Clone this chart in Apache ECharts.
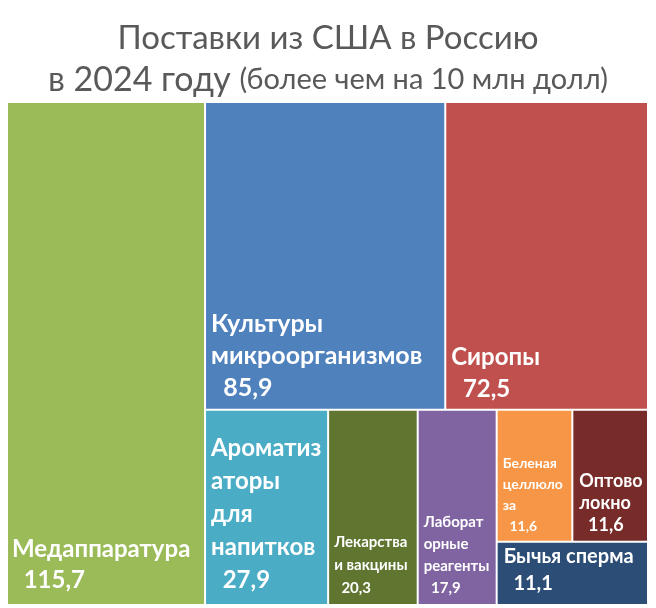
<!DOCTYPE html>
<html>
<head>
<meta charset="utf-8">
<script src="https://cdn.jsdelivr.net/npm/echarts@6/dist/echarts.min.js"></script>
<style>
  html, body { margin: 0; padding: 0; background: #fff; }
  #main { width: 656px; height: 608px; }
</style>
</head>
<body>
<div id="main"></div>
<script>
// категории (с переносами, как на подписях) и значения, млн долл
var names = [
	'Медаппаратура',
	'Культуры\nмикроорганизмов',
	'Сиропы',
	'Ароматиз\nаторы\nдля\nнапитков',
	'Лекарства\nи вакцины',
	'Лаборат\nорные\nреагенты',
	'Беленая\nцеллюло\nза',
	'Оптово\nлокно',
	'Бычья сперма'
];
var values = [115.7, 85.9, 72.5, 27.9, 20.3, 17.9, 11.6, 11.6, 11.1];

// группировка индексов, чтобы раскладка совпала с исходной
var layoutTree = [0, [[1, 2], [3, [4, [5, [[6, 7], 8]]]]]];

// стили
var colors = ['#9bbb59', '#4f81bd', '#c0504d', '#4bacc6', '#5f7530', '#8064a2', '#f79646', '#772c2a', '#2c4d75'];
var fontSizes = [24, 25, 24, 24, 15, 15, 14, 18, 20];
var lineHeights = [31, 32, 32, 33, 23, 22, 21, 22, 27];
var padBottom = [4, 1, 0, 3, 0, 1, 0, 1, 3];
var padLeft = [0, 1, 1, 1, 1, 1, 1, 2, 2];

function fmt(v) {
	return String(v).replace('.', ',');
}

function build(node) {
	if (typeof node === 'number') {
		var i = node;
		return {
			name: names[i],
			value: values[i],
			itemStyle: {
				color: colors[i],
				borderWidth: 1,
				borderColor: '#fff'
			},
			label: {
				fontSize: fontSizes[i],
				lineHeight: lineHeights[i],
				padding: [0, 0, padBottom[i], padLeft[i]]
			}
		};
	}
	return {
		name: '',
		children: node.map(build)
	};
}

var titleFont = 'Lato, "Noto Sans"';

var option = {
	backgroundColor: '#fff',
	animation: false,
	title: {
		left: 'center',
		top: 12,
		text: '{t|Поставки из США в Россию}\n{a|в 2024 году }{b|(более чем на 10 млн долл)}',
		textStyle: {
			rich: {
				t: {
					fontFamily: titleFont,
					fontWeight: 'normal',
					fontSize: 33,
					color: '#595959',
					lineHeight: 42
				},
				a: {
					fontFamily: titleFont,
					fontWeight: 'normal',
					fontSize: 34,
					color: '#595959',
					lineHeight: 42
				},
				b: {
					fontFamily: titleFont,
					fontWeight: 'normal',
					fontSize: 29,
					color: '#595959',
					lineHeight: 42
				}
			}
		}
	},
	series: [{
		type: 'treemap',
		left: 7,
		top: 102,
		width: 641,
		height: 503,
		squareRatio: 1,
		sort: false,
		roam: false,
		nodeClick: false,
		breadcrumb: { show: false },
		upperLabel: { show: false },
		itemStyle: {
			borderWidth: 0,
			gapWidth: 0,
			borderColor: '#fff'
		},
		label: {
			show: true,
			position: 'insideBottomLeft',
			distance: 4,
			color: '#fff',
			fontFamily: 'Lato, "Noto Sans"',
			fontWeight: 'bold',
			overflow: 'none',
			formatter: function(p) {
				return p.name + '\n  ' + fmt(p.value);
			}
		},
		emphasis: { disabled: true },
		data: build(layoutTree).children
	}]
};

var myChart = echarts.init(document.getElementById('main'));
myChart.setOption(option);
</script>
</body>
</html>
